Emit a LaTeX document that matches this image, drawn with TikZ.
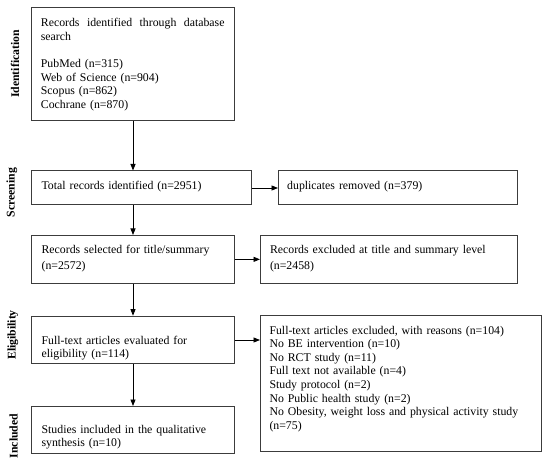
\documentclass[tikz,border=0pt]{standalone}
\usepackage{fontspec}
\setmainfont{Liberation Serif}
\usetikzlibrary{arrows.meta,calc}
\definecolor{boxgray}{RGB}{60,60,60}
\begin{document}
\begin{tikzpicture}[x=1bp,y=-1bp,
  box/.style={draw=boxgray, line width=1bp, inner sep=0pt, anchor=north west},
  txt/.style={anchor=base west, inner sep=0pt, align=left, font=\fontsize{11.85}{13.7}\selectfont},
  stage/.style={rotate=90, anchor=base, inner sep=0pt, font=\fontsize{11.8}{13.7}\selectfont\bfseries},
  arr/.style={-{Triangle[length=6.5bp,width=5bp]}, line width=0.8bp}]
\useasboundingbox (0,0) rectangle (550,470);

% boxes
\node[box, minimum width=203bp, minimum height=113bp] (b1) at (31,7) {};
\node[box, minimum width=220bp, minimum height=34bp] (b2) at (31,170.5) {};
\node[box, minimum width=239bp, minimum height=34bp] (dup) at (278,170.5) {};
\node[box, minimum width=203bp, minimum height=47.7bp] (b3) at (31,235) {};
\node[box, minimum width=257bp, minimum height=47.7bp] (excl) at (260,235) {};
\node[box, minimum width=203bp, minimum height=47.6bp] (b4) at (31,315.7) {};
\node[box, minimum width=281bp, minimum height=135.7bp] (big) at (260,315) {};
\node[box, minimum width=203bp, minimum height=47bp] (b5) at (31,406) {};

% texts
\node[txt, text width=183.6bp] (t1) at (40.7,26.7) {Records\hfill identified\hfill through\hfill database\\search\\[13.7bp]PubMed (n=315)\\Web of Science (n=904)\\Scopus (n=862)\\Cochrane (n=870)};
\node[txt, text width=200bp] (t2) at (41.4,189.5) {Total records identified (n=2951)};
\node[txt, text width=225bp] (tdup) at (287,189.5) {duplicates removed (n=379)};
\node[txt, text width=185bp] (t3) at (41.4,253.4) {Records selected for title/summary\\[2bp](n=2572)};
\node[txt, text width=240bp] (texcl) at (269.8,253.4) {Records excluded at title and summary level\\[2bp](n=2458)};
\node[txt, text width=185bp] (t4) at (41.4,344.3) {Full-text articles evaluated for\\eligibility (n=114)};
\node[txt, text width=265bp] (tbig) at (269.3,334) {Full-text articles excluded, with reasons (n=104)\\No BE intervention (n=10)\\No RCT study (n=11)\\Full text not available (n=4)\\Study protocol (n=2)\\No Public health study (n=2)\\No Obesity, weight loss and physical activity study\\(n=75)};
\node[txt, text width=185bp] (t5) at (41.4,433.3) {Studies included in the qualitative\\synthesis (n=10)};

% stage labels
\node[stage] (sid) at (19,64) {Identification};
\node[stage] (ssc) at (14.5,192.5) {Screening};
\node[stage] (sel) at (15.5,335) {Eligibility};
\node[stage] (sin) at (17.5,436) {Included};

% connectors
\draw[arr] (b1.south) -- (b1.south |- b2.north);
\draw[arr] (b3.north |- b2.south) -- (b3.north);
\draw[arr] (b3.south) -- (b4.north);
\draw[arr] (b4.south) -- (b5.north);
\draw[arr] (b2.east) -- (dup.west);
\draw[arr] (b3.east) -- (excl.west);
\draw[arr] (b4.east) -- (b4.east -| big.west);
\end{tikzpicture}
\end{document}
